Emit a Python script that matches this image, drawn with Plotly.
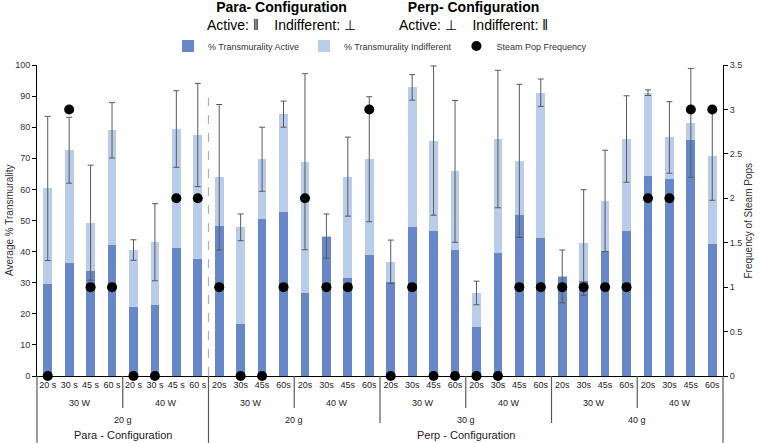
import numpy as np
import plotly.graph_objects as go

# --- data ------------------------------------------------------------------
times = ["20 s", "30 s", "45 s", "60 s", "20 s", "30 s", "45 s", "60 s"] + ["20s", "30s", "45s", "60s"] * 6
powers = ["30 W", "40 W"] * 8
weights = ["20 g", "20 g", "30 g", "40 g"]
configs = ["Para - Configuration", "Perp - Configuration"]

active = [29.5, 36.2, 33.8, 42.2, 22.1, 22.8, 41.3, 37.7,
          48.1, 16.8, 50.4, 52.7, 26.7, 44.7, 31.4, 38.8,
          30.3, 48.0, 46.5, 40.6, 15.6, 39.5, 51.8, 44.4,
          31.9, 30.6, 40.3, 46.6, 64.4, 63.3, 76.0, 42.4]
total = [60.3, 72.6, 49.3, 79.0, 40.5, 43.0, 79.4, 77.5,
         63.9, 47.8, 69.7, 84.2, 68.9, 45.0, 64.1, 69.7,
         36.7, 92.8, 75.7, 65.8, 26.7, 76.2, 69.2, 91.1,
         32.0, 42.9, 56.3, 76.2, 91.1, 76.7, 81.4, 70.6]
sd = [23.2, 10.6, 18.5, 8.9, 3.3, 12.4, 12.3, 16.6,
      23.4, 4.3, 10.3, 4.2, 28.3, 7.1, 12.7, 20.1,
      7.0, 4.1, 24.0, 22.8, 3.8, 22.1, 24.6, 4.4,
      8.5, 17.0, 16.3, 13.9, 0.9, 11.5, 17.5, 14.1]
pops = [0, 3, 1, 1, 0, 0, 2, 2,
        1, 0, 0, 1, 2, 1, 1, 3,
        0, 1, 0, 0, 0, 0, 1, 1,
        1, 1, 1, 1, 2, 2, 3, 3]

C_ACTIVE = "#6787C9"
C_INDIFF = "#B9CCE9"
FONT = "Arial, Liberation Sans, sans-serif"

n = len(times)
x = np.arange(n)
indiff = np.array(total) - np.array(active)

fig = go.Figure()

fig.add_trace(go.Bar(x=x, y=active, name="% Transmurality Active",
                     marker_color=C_ACTIVE, marker_line_width=0))
fig.add_trace(go.Bar(x=x, y=indiff, name="% Transmurality Indifferent",
                     marker_color=C_INDIFF, marker_line_width=0))

# error bars sit on the top of the stack
fig.add_trace(go.Scatter(
    x=x, y=total, mode="markers", marker=dict(opacity=0, size=1),
    showlegend=False, hoverinfo="skip",
    error_y=dict(type="data", array=sd, visible=True,
                 color="#595959", thickness=1, width=3)
))

fig.add_trace(go.Scatter(
    x=x, y=pops, yaxis="y2", mode="markers", name="Steam Pop Frequency",
    marker=dict(color="black", size=10), cliponaxis=False
))

# --- multi-level category axis drawn by hand ---------------------------------
def px_x(v):
    return (v + 0.5) / n

shapes = []
# dashed divider between configurations
shapes.append(dict(type="line", xref="paper", yref="paper",
                   x0=px_x(7.5), x1=px_x(7.5), y0=0, y1=0.895,
                   line=dict(color="#B0B0B0", width=1.2, dash="dash")))
# separators under the axis
seps = {-0.5: -0.215, 31.5: -0.215, 7.5: -0.215,
        15.5: -0.151, 23.5: -0.151,
        3.5: -0.103, 11.5: -0.103, 19.5: -0.103, 27.5: -0.103}
for b, y0 in seps.items():
    shapes.append(dict(type="line", xref="paper", yref="paper",
                       x0=px_x(b), x1=px_x(b), y0=0, y1=y0,
                       line=dict(color="#595959", width=1.2)))

annotations = []


def label(xv, yv, text, size=9, xref="x", color="#222", **kw):
    annotations.append(dict(x=xv, y=yv, xref=xref, yref="paper", text=text,
                            showarrow=False, xanchor="center", yanchor="middle",
                            font=dict(size=size, color=color), **kw))


for i, p in enumerate(powers):
    label(4 * i + 1.5, -0.087, p)
for i, w in enumerate(weights):
    label(8 * i + 3.5, -0.141, w)
label(3.5, -0.189, configs[0], size=11)
label(19.5, -0.189, configs[1], size=11)

# axis titles
label(-0.04, 0.5, "Average % Transmurality", size=10, xref="paper",
      color="#333", textangle=-90)
label(1.0365, 0.5, "Frequency of Steam Pops", size=10, xref="paper",
      color="#333", textangle=-90)

# headers
sp = "\u00a0" * 4
for xc, head, sub in [(0.357, "Para- Configuration", "Active: \u01c1" + sp + "Indifferent: \u22a5"),
                      (0.636, "Perp- Configuration", "Active: \u22a5" + sp + "Indifferent: \u01c1")]:
    label(xc, 1.158, f"<b>{head}</b><br>{sub}", size=14, xref="paper",
          color="black", borderpad=0)

fig.update_layout(
    width=759, height=443,
    margin=dict(l=37, r=36, t=65, b=67, autoexpand=False),
    barmode="stack", bargap=0.59,
    plot_bgcolor="white", paper_bgcolor="white",
    font=dict(family=FONT, size=9, color="#333"),
    showlegend=True,
    legend=dict(orientation="h", x=0.5, xanchor="center", y=1.061, yanchor="middle",
                traceorder="normal", font=dict(size=9, color="#333"), itemwidth=30,
                bgcolor="rgba(0,0,0,0)"),
    xaxis=dict(range=[-0.5, n - 0.5], tickvals=list(x), ticktext=times,
               showline=True, linecolor="black", linewidth=1,
               ticks="", showgrid=False, zeroline=False,
               tickfont=dict(size=9, color="#222")),
    yaxis=dict(range=[0, 100], dtick=10, showline=True, linecolor="black",
               ticks="outside", ticklen=4, tickcolor="black",
               showgrid=False, zeroline=False,
               tickfont=dict(size=9, color="#333")),
    yaxis2=dict(range=[0, 3.5], dtick=0.5, overlaying="y", side="right",
                showline=True, linecolor="black", ticks="outside", ticklen=4,
                tickcolor="black", showgrid=False, zeroline=False,
                tickfont=dict(size=9, color="#333")),
    shapes=shapes,
    annotations=annotations,
)

fig.write_html("out.html", config={"displayModeBar": False},
               post_script="document.body.style.margin='0';")
